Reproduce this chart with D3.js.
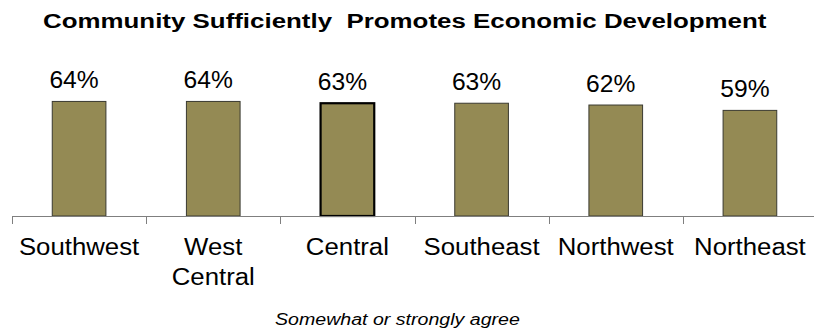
<!DOCTYPE html>
<html>
<head>
<meta charset="utf-8">
<script src="https://cdn.jsdelivr.net/npm/d3@7"></script>
<style>
  html, body { margin: 0; padding: 0; background: #ffffff; }
  svg { display: block; font-family: "Liberation Sans", Arial, sans-serif; }
</style>
</head>
<body>
<svg id="chart" width="814" height="333"></svg>
<script>
// Share of respondents who somewhat or strongly agree, by region
const regions = ["Southwest", "West Central", "Central", "Southeast", "Northwest", "Northeast"];
const agreePct = [64, 64, 63, 63, 62, 59];
const highlighted = ["Central"];
const chartTitle = "Community Sufficiently  Promotes Economic Development";
const axisNote = "Somewhat or strongly agree";

const svg = d3.select("#chart");

const x = d3.scaleBand()
  .domain(regions)
  .range([12, 817])
  .paddingInner(0.6)
  .paddingOuter(0.3);

const y = d3.scaleLinear()
  .domain([0, 100])
  .range([216, 37]);

// Stretch glyphs horizontally by a factor, keeping their height
function widen(sel, factor) {
  sel.each(function () {
    const len = this.getComputedTextLength();
    d3.select(this)
      .attr("textLength", len * factor)
      .attr("lengthAdjust", "spacingAndGlyphs");
  });
}

// Place a text line so it spans [x0, x1] horizontally, scaling its width only
function spanText(g, str, x0, x1, baseline, attrs) {
  const holder = g.append("g");
  const t = holder.append("text")
    .attr("x", 0)
    .attr("y", 0)
    .attr("text-anchor", "start")
    .attr("fill", "#000")
    .attr("xml:space", "preserve")
    .style("white-space", "pre");
  Object.entries(attrs).forEach(([k, v]) => t.attr(k, v));
  t.text(str);
  const bb = t.node().getBBox();
  const sx = (x1 - x0) / bb.width;
  holder.attr("transform", `translate(${x0 - bb.x * sx},${baseline}) scale(${sx},1)`);
  return holder;
}

// Title
spanText(svg, chartTitle, 43, 767, 27.5, { "font-weight": "bold", "font-size": 20.5 });

// Bars
const data = regions.map((r, i) => ({ region: r, value: agreePct[i] }));

svg.append("g")
  .selectAll("rect")
  .data(data)
  .join("rect")
  .attr("x", d => x(d.region))
  .attr("y", d => y(d.value))
  .attr("width", x.bandwidth())
  .attr("height", d => y(0) - y(d.value))
  .attr("fill", "#948a54")
  .attr("stroke", d => highlighted.includes(d.region) ? "#000" : "#3a3a30")
  .attr("stroke-width", d => highlighted.includes(d.region) ? 2.2 : 1);

// Value labels
svg.append("g")
  .selectAll("text")
  .data(data)
  .join("text")
  .attr("x", d => x(d.region) + x.bandwidth() / 2 - 5)
  .attr("y", d => y(d.value) - 13.5)
  .attr("text-anchor", "middle")
  .attr("font-size", 23)
  .attr("fill", "#000")
  .text(d => d.value + "%")
  .call(widen, 1.07);

// Category axis: baseline with ticks between categories
const axisG = svg.append("g");
axisG.append("line")
  .attr("x1", x.range()[0])
  .attr("x2", x.range()[1])
  .attr("y1", y(0) + 0.5)
  .attr("y2", y(0) + 0.5)
  .attr("stroke", "#7f7f7f")
  .attr("stroke-width", 1);

const tickXs = regions.map(r => x(r) + x.bandwidth() / 2 - x.step() / 2)
  .concat([x.range()[1]]);
axisG.selectAll("line.tick")
  .data(tickXs)
  .join("line")
  .attr("class", "tick")
  .attr("x1", d => Math.round(d) + 0.5)
  .attr("x2", d => Math.round(d) + 0.5)
  .attr("y1", y(0))
  .attr("y2", y(0) + 8)
  .attr("stroke", "#7f7f7f")
  .attr("stroke-width", 1);

// Category labels (wrapped onto two lines where they contain a space)
const catLabels = axisG.selectAll("text.cat")
  .data(regions)
  .join("text")
  .attr("class", "cat")
  .attr("text-anchor", "middle")
  .attr("font-size", 23)
  .attr("fill", "#000");

catLabels.each(function (r) {
  const parts = (r === "West Central") ? ["West", "Central"] : [r];
  const t = d3.select(this);
  parts.forEach((p, i) => {
    t.append("tspan")
      .attr("x", x(r) + x.bandwidth() / 2)
      .attr("y", 255 + i * 30)
      .text(p)
      .call(widen, 1.12);
  });
});

// Axis note
spanText(svg, axisNote, 275, 520, 325, { "font-style": "italic", "font-size": 17 });
</script>
</body>
</html>
